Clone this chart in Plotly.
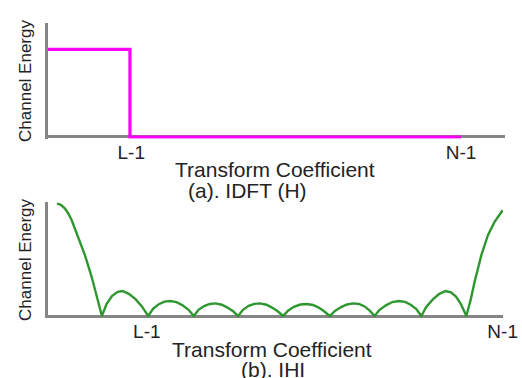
import plotly.graph_objects as go

# (a) IDFT of H: flat energy up to L-1, zero up to N-1
idft_k = [0.0, 12.5, 12.5, 63.0]
idft_energy = [0.771, 0.771, 0.0, 0.0]

# (b) |H|: main lobes at both ends, side lobes in between
mag_k = [0.0, 0.6, 1.13, 1.6, 2.08, 3.01, 3.95, 4.9, 5.6, 6.35,
         7.0, 7.8, 8.6, 9.3, 10.2, 11.1, 12.0, 12.9,
         13.6, 14.4, 15.2, 16.0, 16.9, 17.8, 18.6, 19.35,
         20.0, 20.8, 21.6, 22.4, 23.3, 24.1, 24.9, 25.6,
         26.3, 27.1, 27.9, 28.7, 29.6, 30.4, 31.2, 31.96,
         32.7, 33.5, 34.4, 35.3, 36.2, 37.0, 37.8, 38.56,
         39.3, 40.1, 41.0, 41.9, 42.7, 43.5, 44.2, 44.9,
         45.6, 46.5, 47.4, 48.3, 49.2, 50.0, 50.8, 51.5,
         52.2, 53.1, 54.0, 54.9, 55.7, 56.4, 57.1, 57.87,
         58.5, 59.04, 59.99, 60.92, 61.86, 63.0]
mag_energy = [1.0, 0.985, 0.953, 0.91, 0.85, 0.702, 0.54, 0.348, 0.18, 0.0,
              0.105, 0.18, 0.215, 0.222, 0.195, 0.15, 0.085, 0.0,
              0.065, 0.105, 0.128, 0.133, 0.123, 0.093, 0.055, 0.0,
              0.055, 0.088, 0.107, 0.112, 0.1, 0.075, 0.042, 0.0,
              0.055, 0.09, 0.108, 0.112, 0.1, 0.075, 0.042, 0.0,
              0.05, 0.082, 0.102, 0.106, 0.098, 0.075, 0.04, 0.0,
              0.045, 0.077, 0.102, 0.112, 0.107, 0.085, 0.048, 0.0,
              0.055, 0.095, 0.124, 0.133, 0.125, 0.1, 0.062, 0.0,
              0.08, 0.145, 0.195, 0.222, 0.21, 0.172, 0.105, 0.0,
              0.15, 0.304, 0.54, 0.717, 0.835, 0.938]

top_tick_vals = [12.7, 63.0]
bottom_tick_vals = [12.7, 63.0]
tick_text = ["L-1", "N-1"]

x_title = "Transform Coefficient"
y_title = "Channel Energy"
captions = ["(a). IDFT (H)", "(b). IHI"]

FONT = "Liberation Sans, Arial, sans-serif"
TEXT = "#232323"
AXIS = "#858585"
BIG = 21

fig = go.Figure()
fig.add_trace(go.Scatter(x=idft_k, y=idft_energy, mode="lines",
                         line=dict(color="#ff00ff", width=3.2),
                         xaxis="x", yaxis="y", showlegend=False))
fig.add_trace(go.Scatter(x=mag_k, y=mag_energy, mode="lines",
                         line=dict(color="#2f972f", width=2.4),
                         xaxis="x2", yaxis="y2", showlegend=False))

xcommon = dict(showgrid=False, zeroline=False, showline=False, ticks="",
               automargin=False,
               tickfont=dict(family=FONT, size=19, color=TEXT),
               ticktext=tick_text)
ycommon = dict(showgrid=False, showticklabels=False, ticks="",
               automargin=False,
               showline=True, linecolor=AXIS, linewidth=2.6,
               zeroline=True, zerolinecolor=AXIS, zerolinewidth=2.6,
               title=dict(text=y_title, font=dict(family=FONT, size=17, color=TEXT), standoff=10))


def caption(text, x, y):
    return dict(text=text, x=x / 522, y=1 - y / 378, xref="paper", yref="paper",
                showarrow=False, xanchor="center", yanchor="middle",
                font=dict(family=FONT, size=BIG, color=TEXT))


fig.update_layout(
    width=522, height=378,
    margin=dict(l=0, r=0, t=0, b=0),
    paper_bgcolor="white", plot_bgcolor="white",
    xaxis=dict(xcommon, domain=[48 / 522, 505 / 522], range=[0, 69.7],
               tickvals=top_tick_vals, anchor="y"),
    yaxis=dict(ycommon, domain=[0.6331, 0.9384], range=[-0.015, 1.0], anchor="x"),
    xaxis2=dict(xcommon, domain=[48 / 522, 503 / 522], range=[-1.27, 63.05],
                tickvals=bottom_tick_vals, anchor="y2"),
    yaxis2=dict(ycommon, domain=[0.1595, 0.4651], range=[-0.015, 1.01], anchor="x2"),
    annotations=[
        caption(x_title, 275, 169.5),
        caption(captions[0], 247, 190),
        caption(x_title, 272, 349.5),
        caption(captions[1], 273, 369),
    ],
)

fig.write_html("out.html")
